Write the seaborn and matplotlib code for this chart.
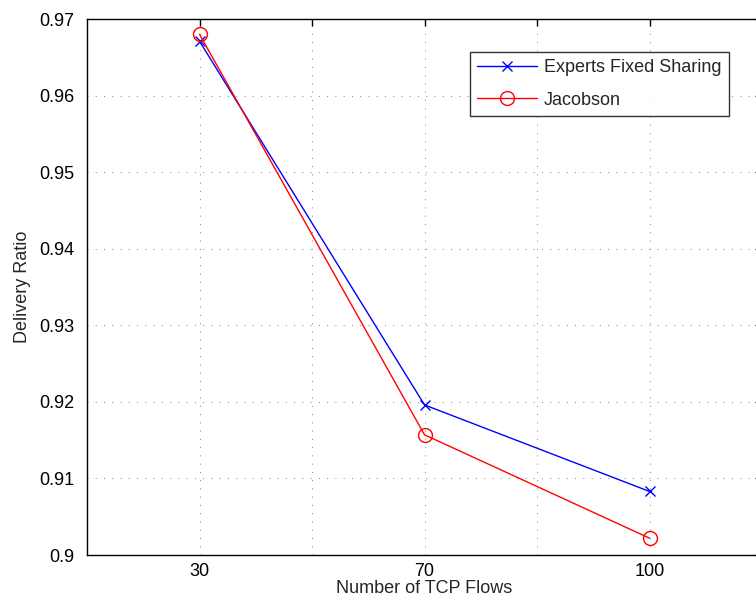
import pandas as pd
import matplotlib.pyplot as plt
import seaborn as sns

# values
flows = ["30", "70", "100"]
experts_fixed = [0.9671, 0.9196, 0.9083]
jacobson = [0.9680, 0.9157, 0.9022]
y_ticks = [0.90, 0.91, 0.92, 0.93, 0.94, 0.95, 0.96, 0.97]

series = {
    "Experts Fixed Sharing": (experts_fixed, "#0000ff", "x", 7),
    "Jacobson": (jacobson, "#ff0000", "o", 10),
}

sns.set_style("white")
plt.rcParams["font.family"] = ["Liberation Sans", "DejaVu Sans"]

fig = plt.figure(figsize=(7.56, 6.01), dpi=100)
ax = fig.add_axes([87 / 756, 46 / 601, 675 / 756, 536 / 601])

for name, (vals, col, mk, ms) in series.items():
    d = pd.DataFrame({"pos": range(len(flows)), "ratio": vals})
    sns.lineplot(data=d, x="pos", y="ratio", color=col, marker=mk, label=name,
                 linewidth=1.0, markersize=ms, markerfacecolor="none",
                 markeredgecolor=col, markeredgewidth=1.0, ax=ax)

ax.set_xlim(-0.5, 2.5)
ax.set_ylim(0.9, 0.97)
ax.set_xticks([0, 0.5, 1, 1.5, 2])
ax.set_xticklabels([flows[0], "", flows[1], "", flows[2]])
ax.set_yticks(y_ticks)
ax.set_yticklabels([f"{v:g}" for v in y_ticks])
ax.tick_params(direction="in", length=5, width=1, labelsize=13, top=True, right=True,
               colors="black")
ax.tick_params(axis="x", pad=6)
ax.tick_params(axis="y", pad=9)
ax.grid(True, linestyle=(0, (1, 7.5)), color="#808080", linewidth=0.7)
for sp in ax.spines.values():
    sp.set_color("black")
    sp.set_linewidth(1.0)

ax.set_xlabel("Number of TCP Flows", fontsize=13, labelpad=0)
ax.set_ylabel("Delivery Ratio", fontsize=13, labelpad=6)

leg = ax.legend(loc="upper left", bbox_to_anchor=(470 / 756, 1 - 52 / 601),
                bbox_transform=fig.transFigure, fontsize=13, frameon=True,
                fancybox=False, handlelength=3.3, borderpad=0.4, labelspacing=0.85,
                borderaxespad=0, handletextpad=0.4)
leg.get_frame().set_edgecolor("black")
leg.get_frame().set_linewidth(1.0)

fig.savefig("out.png", dpi=100)
